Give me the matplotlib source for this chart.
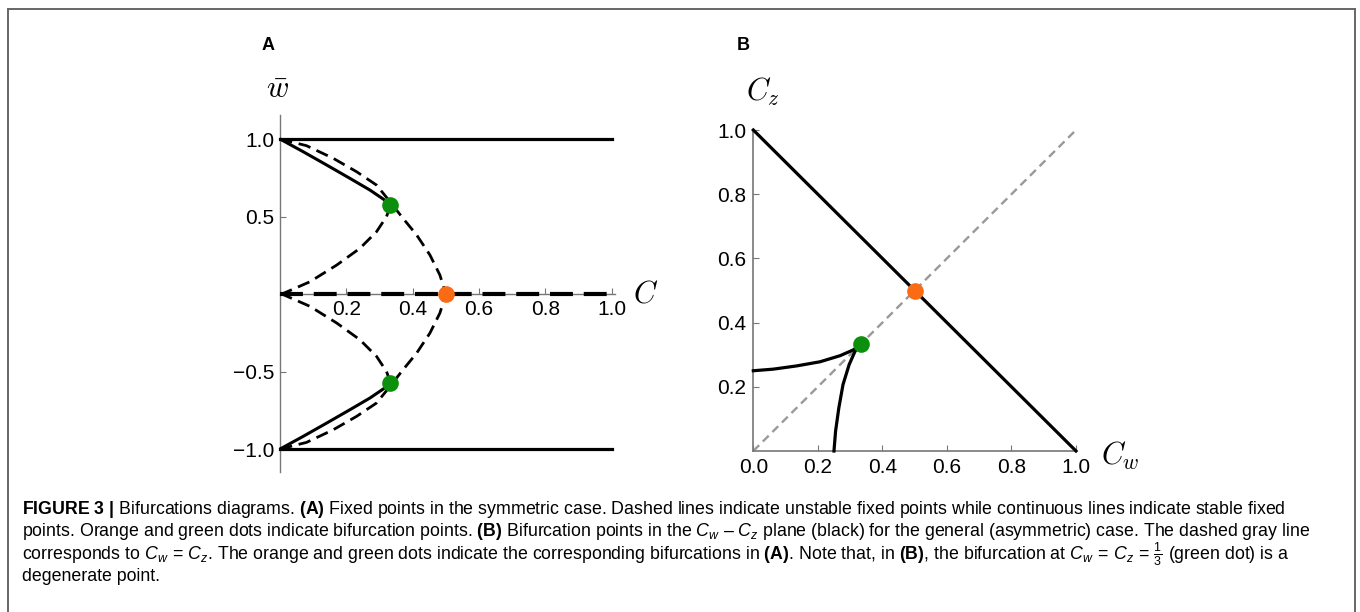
import matplotlib
matplotlib.use('Agg')
import matplotlib.pyplot as plt
from matplotlib import font_manager
from matplotlib.lines import Line2D

# Panel A: fixed points, upper branch (the lower one is the mirror image)
solid_c = [0.0, 0.070, 0.141, 0.211, 0.271, 0.311, 0.333]
solid_w = [1.0, 0.918, 0.832, 0.746, 0.671, 0.613, 0.577]
outer_c = [0.0, 0.080, 0.161, 0.231, 0.291, 0.330, 0.371, 0.412, 0.452, 0.482, 0.5]
outer_w = [1.0, 0.957, 0.875, 0.789, 0.703, 0.600, 0.488, 0.381, 0.252, 0.123, 0.0]
inner_c = [0.333, 0.328, 0.321, 0.291, 0.241, 0.171, 0.090, 0.010, 0.0]
inner_w = [0.577, 0.540, 0.499, 0.402, 0.295, 0.187, 0.079, 0.004, 0.0]
green_a = (0.333, 0.577)
orange_a = (0.5, 0.0)

# Panel B: bifurcation curves in the Cw-Cz plane
curve_cw = [0.0, 0.062, 0.134, 0.207, 0.269, 0.310, 0.333]
curve_cz = [0.250, 0.255, 0.265, 0.278, 0.297, 0.315, 0.333]
green_b = (0.333, 0.333)
orange_b = (0.5, 0.5)

xticks_a = [0.2, 0.4, 0.6, 0.8, 1.0]
yticks_a = [-1.0, -0.5, 0.5, 1.0]
yticklabels_a = ['\u22121.0', '\u22120.5', '0.5', '1.0']
xticks_b = [0.0, 0.2, 0.4, 0.6, 0.8, 1.0]
yticks_b = [0.2, 0.4, 0.6, 0.8, 1.0]

GREEN = '#0c8f0c'
ORANGE = '#fb6a14'
AXC = '#777777'

names = {f.name for f in font_manager.fontManager.ttflist}
cap_font = 'Liberation Sans Narrow' if 'Liberation Sans Narrow' in names else 'Liberation Sans'
cap_size = 12.5 if cap_font == 'Liberation Sans Narrow' else 12.8

plt.rcParams['font.family'] = ['Liberation Sans', 'DejaVu Sans']
plt.rcParams['mathtext.fontset'] = 'custom'
plt.rcParams['mathtext.rm'] = cap_font
plt.rcParams['mathtext.it'] = cap_font + ':italic'
plt.rcParams['mathtext.bf'] = cap_font + ':bold'

W, H = 1360, 612
fig = plt.figure(figsize=(W / 100, H / 100), dpi=100)


def fx(px):
    return px / W


def fy(py):
    return 1 - py / H


# outer frame
for xs, ys in [((8, 1355), (9, 9)), ((8, 8), (9, 640)), ((1355, 1355), (9, 640))]:
    fig.add_artist(Line2D([fx(x) for x in xs], [fy(y) for y in ys], color='#666666', lw=1.4))

# ---- panel A ----
ax = fig.add_axes([fx(280), fy(472), fx(335), 357 / H])
ax.set_xlim(0, 1.01)
ax.set_ylim(-1.148, 1.155)
for s in ['top', 'right']:
    ax.spines[s].set_visible(False)
ax.spines['bottom'].set_position(('data', 0))
for s in ['left', 'bottom']:
    ax.spines[s].set_color(AXC)
    ax.spines[s].set_linewidth(1.0)
ax.set_xticks(xticks_a)
ax.set_xticklabels([f'{t:.1f}' for t in xticks_a])
ax.set_yticks(yticks_a)
ax.set_yticklabels(yticklabels_a)
ax.tick_params(direction='in', length=4, width=0.8, color=AXC, labelsize=15, pad=4)
ax.set_facecolor('none')

for sign in (1, -1):
    ax.plot([0, 1.0], [sign, sign], color='black', lw=2.3, clip_on=False, zorder=3)
    ax.plot(solid_c, [sign * w for w in solid_w], color='black', lw=2.2,
            clip_on=False, zorder=3, solid_capstyle='butt')
    ax.plot(outer_c, [sign * w for w in outer_w], color='black', lw=2.0,
            dashes=[4.5, 2.4], clip_on=False, zorder=3)
    ax.plot(inner_c, [sign * w for w in inner_w], color='black', lw=2.0,
            dashes=[4.5, 2.4], clip_on=False, zorder=3)
    ax.plot([green_a[0]], [sign * green_a[1]], 'o', color=GREEN, ms=12,
            mec='none', clip_on=False, zorder=5)
ax.plot([0, 1.0], [0, 0], color='black', lw=3.0, dashes=[5.5, 2.6],
        clip_on=False, zorder=3)
ax.plot([orange_a[0]], [orange_a[1]], 'o', color=ORANGE, ms=12, mec='none',
        clip_on=False, zorder=5)

# ---- panel B ----
bx = fig.add_axes([fx(753.3), fy(451), 322.7 / W, 321 / H])
bx.set_xlim(0, 1)
bx.set_ylim(0, 1)
for s in ['top', 'right']:
    bx.spines[s].set_visible(False)
for s in ['left', 'bottom']:
    bx.spines[s].set_color(AXC)
    bx.spines[s].set_linewidth(1.2)
bx.set_xticks(xticks_b)
bx.set_xticklabels([f'{t:.1f}' for t in xticks_b])
bx.set_yticks(yticks_b)
bx.set_yticklabels([f'{t:.1f}' for t in yticks_b])
bx.tick_params(direction='in', length=4, width=0.8, color=AXC, labelsize=15, pad=5)
bx.set_facecolor('none')

bx.plot([0, 1], [0, 1], color='#999999', lw=1.7, dashes=[3.5, 2.2], clip_on=False, zorder=2)
bx.plot([0, 1], [1, 0], color='black', lw=2.3, clip_on=False, zorder=3)
bx.plot(curve_cw, curve_cz, color='black', lw=2.3, clip_on=False, zorder=3)
bx.plot(curve_cz, curve_cw, color='black', lw=2.3, clip_on=False, zorder=3)
bx.plot([green_b[0]], [green_b[1]], 'o', color=GREEN, ms=12, mec='none', clip_on=False, zorder=5)
bx.plot([orange_b[0]], [orange_b[1]], 'o', color=ORANGE, ms=12, mec='none', clip_on=False, zorder=5)

# panel and axis labels
fig.text(fx(268), fy(45), 'A', ha='center', va='center', fontsize=13, fontweight='bold')
fig.text(fx(743), fy(45), 'B', ha='center', va='center', fontsize=13, fontweight='bold')
fig.text(fx(278), fy(90), r'$\bar{w}$', ha='center', va='center', fontsize=22, math_fontfamily='cm')
fig.text(fx(646), fy(294), r'$C$', ha='center', va='center', fontsize=22, math_fontfamily='cm')
fig.text(fx(763), fy(92), r'$C_z$', ha='center', va='center', fontsize=22, math_fontfamily='cm')
fig.text(fx(1120), fy(456), r'$C_w$', ha='center', va='center', fontsize=22, math_fontfamily='cm')

# caption
caption = [
    r'$\mathbf{FIGURE\ 3\ |}$ Bifurcations diagrams. $\mathbf{(A)}$ Fixed points in the symmetric case. '
    r'Dashed lines indicate unstable fixed points while continuous lines indicate stable fixed',
    r'points. Orange and green dots indicate bifurcation points. $\mathbf{(B)}$ Bifurcation points in the '
    '$C_w$ \u2013 $C_z$ plane (black) for the general (asymmetric) case. The dashed gray line',
    r'corresponds to $C_w\,=\,C_z$. The orange and green dots indicate the corresponding bifurcations in '
    r'$\mathbf{(A)}$. Note that, in $\mathbf{(B)}$, the bifurcation at $C_w\,=\,C_z\,=\,\frac{1}{3}$ (green dot) is a',
    'degenerate point.',
]
for i, line in enumerate(caption):
    fig.text(fx(22), fy(509 + i * 22.5), line, ha='left', va='center',
             fontsize=cap_size, family=cap_font)

fig.savefig('out.png', dpi=100)
